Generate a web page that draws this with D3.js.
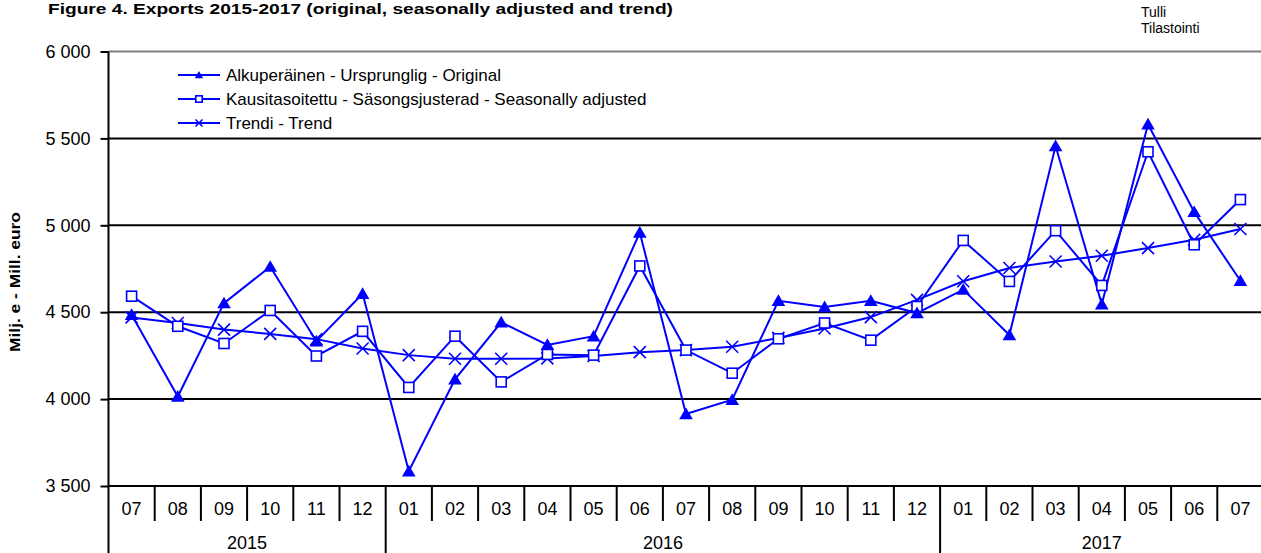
<!DOCTYPE html>
<html>
<head>
<meta charset="utf-8">
<script src="https://cdn.jsdelivr.net/npm/d3@7"></script>
<style>
  html, body { margin: 0; padding: 0; background: #fff; }
  svg { display: block; font-family: Arial, "Liberation Sans", sans-serif; }
</style>
</head>
<body>
<svg id="chart" width="1261" height="553"></svg>
<script>
// ---- data ----
const categories = ["2015-07","2015-08","2015-09","2015-10","2015-11","2015-12",
  "2016-01","2016-02","2016-03","2016-04","2016-05","2016-06","2016-07","2016-08","2016-09","2016-10","2016-11","2016-12",
  "2017-01","2017-02","2017-03","2017-04","2017-05","2017-06","2017-07"];
const years = ["2015", "2016", "2017"];
const original = [4485, 4015, 4552, 4762, 4333, 4606, 3585, 4114, 4442, 4312, 4362, 4958, 3914, 3996, 4566, 4530, 4566, 4495, 4630, 4369, 5456, 4546, 5581, 5077, 4681];
const seasonal = [4592, 4419, 4320, 4510, 4248, 4390, 4067, 4362, 4099, 4257, 4253, 4766, 4282, 4149, 4347, 4438, 4339, 4533, 4913, 4677, 4969, 4654, 5423, 4888, 5148];
const trend    = [4470, 4438, 4400, 4375, 4345, 4291, 4253, 4232, 4232, 4234, 4248, 4270, 4282, 4301, 4352, 4406, 4472, 4571, 4678, 4754, 4792, 4825, 4869, 4917, 4979];
const yTicks = [3500, 4000, 4500, 5000, 5500, 6000];
const seriesNames = ["Alkuperäinen - Ursprunglig - Original",
  "Kausitasoitettu - Säsongsjusterad - Seasonally adjusted",
  "Trendi - Trend"];
const titleText = "Figure  4. Exports  2015-2017 (original, seasonally adjusted and trend)";
const yTitle = "Milj. e - Mill. euro";
const sourceLines = ["Tulli", "Tilastointi"];

(function () {
// ---- layout ----
const svg = d3.select("#chart");
const pL = 108.5, pR = 1263.5, pT = 51.5, pB = 486;
const blue = "#0000ff";

const x = d3.scaleBand().domain(categories).range([pL, pR]).padding(0);
const y = d3.scaleLinear().domain([3500, 6000]).range([pB, pT]);
const loc = d3.formatLocale({decimal: ",", thousands: " ", grouping: [3], currency: ["", ""]});
const fmt = loc.format(",d");

// title
svg.append("text").attr("x", 48).attr("y", 14)
  .attr("font-size", 15).attr("font-weight", "bold").attr("fill", "#000")
  .attr("textLength", 625).attr("lengthAdjust", "spacingAndGlyphs")
  .text(titleText);

// source
svg.selectAll("text.src").data(sourceLines).join("text").attr("class", "src")
  .attr("x", 1141).attr("y", (d, i) => 17 + i * 16)
  .attr("font-size", 14).attr("fill", "#000").text(d => d);

// gridlines
svg.append("g").selectAll("line").data(yTicks).join("line")
  .attr("x1", pL).attr("x2", pR)
  .attr("y1", d => y(d)).attr("y2", d => y(d))
  .attr("stroke", d => d === 6000 ? "#808080" : "#000")
  .attr("stroke-width", 2);

// y axis
const yAxis = d3.axisLeft(y).tickValues(yTicks).tickFormat(fmt).tickSize(8).tickPadding(10);
const gy = svg.append("g").attr("transform", `translate(${pL},0)`).call(yAxis);
gy.select(".domain").remove();
gy.selectAll(".tick line").attr("stroke", "#000").attr("stroke-width", 2);
gy.selectAll(".tick text").attr("font-size", 18).attr("fill", "#000")
  .attr("font-family", "Arial, 'Liberation Sans', sans-serif");

// y axis vertical line (through category area)
svg.append("line").attr("x1", pL).attr("x2", pL).attr("y1", pT).attr("y2", 553)
  .attr("stroke", "#000").attr("stroke-width", 2);

// y title
svg.append("text")
  .attr("transform", "translate(20,282) rotate(-90)")
  .attr("text-anchor", "middle").attr("font-size", 14).attr("font-weight", "bold")
  .attr("textLength", 140).attr("lengthAdjust", "spacingAndGlyphs")
  .text(yTitle);

// category axis: month separators and labels
const gx = svg.append("g");
gx.selectAll("line.sep").data(categories.slice(1)).join("line").attr("class", "sep")
  .attr("x1", d => x(d)).attr("x2", d => x(d))
  .attr("y1", pB)
  .attr("y2", d => d.endsWith("-01") ? 553 : 521)
  .attr("stroke", "#000").attr("stroke-width", 2);
gx.selectAll("text.m").data(categories).join("text").attr("class", "m")
  .attr("x", d => x(d) + x.bandwidth() / 2).attr("y", 515)
  .attr("text-anchor", "middle").attr("font-size", 18).text(d => d.split("-")[1]);
gx.selectAll("text.yr").data(years).join("text").attr("class", "yr")
  .attr("x", yr => {
    const cs = categories.filter(c => c.startsWith(yr));
    return (x(cs[0]) + x(cs[cs.length - 1]) + x.bandwidth()) / 2;
  })
  .attr("y", 549).attr("text-anchor", "middle").attr("font-size", 18).text(d => d);

// series
const cx = (d, i) => x(categories[i]) + x.bandwidth() / 2;
const line = d3.line().x(cx).y(d => y(d));
const plot = svg.append("g");
[original, seasonal, trend].forEach(s => {
  plot.append("path").datum(s).attr("d", line)
    .attr("fill", "none").attr("stroke", blue).attr("stroke-width", 2);
});

function triangle(g, px, py, r) {
  g.append("path").attr("d", `M${px},${py - r}L${px + r * 1.05},${py + r * 0.8}L${px - r * 1.05},${py + r * 0.8}Z`)
    .attr("fill", blue);
}
function square(g, px, py, r) {
  g.append("rect").attr("x", px - r).attr("y", py - r).attr("width", 2 * r).attr("height", 2 * r)
    .attr("fill", "#fff").attr("stroke", blue).attr("stroke-width", 1.6);
}
function cross(g, px, py, r) {
  g.append("path").attr("d", `M${px - r},${py - r}L${px + r},${py + r}M${px - r},${py + r}L${px + r},${py - r}`)
    .attr("stroke", blue).attr("stroke-width", 1.6).attr("fill", "none");
}
const markers = plot.append("g");
trend.forEach((d, i) => cross(markers, cx(d, i), y(d), 6));
seasonal.forEach((d, i) => square(markers, cx(d, i), y(d), 5));
original.forEach((d, i) => triangle(markers, cx(d, i), y(d), 6.5));

// legend
const legY = [75, 99, 123];
const leg = svg.append("g");
const drawers = [(g, px, py) => triangle(g, px, py, 4), (g, px, py) => square(g, px, py, 3.2), (g, px, py) => cross(g, px, py, 3.5)];
seriesNames.forEach((name, i) => {
  leg.append("line").attr("x1", 178).attr("x2", 220).attr("y1", legY[i]).attr("y2", legY[i])
    .attr("stroke", blue).attr("stroke-width", 2);
  drawers[i](leg, 199, legY[i]);
  leg.append("text").attr("x", 226).attr("y", legY[i] + 6).attr("font-size", 17).text(name);
});
})();
</script>
</body>
</html>
